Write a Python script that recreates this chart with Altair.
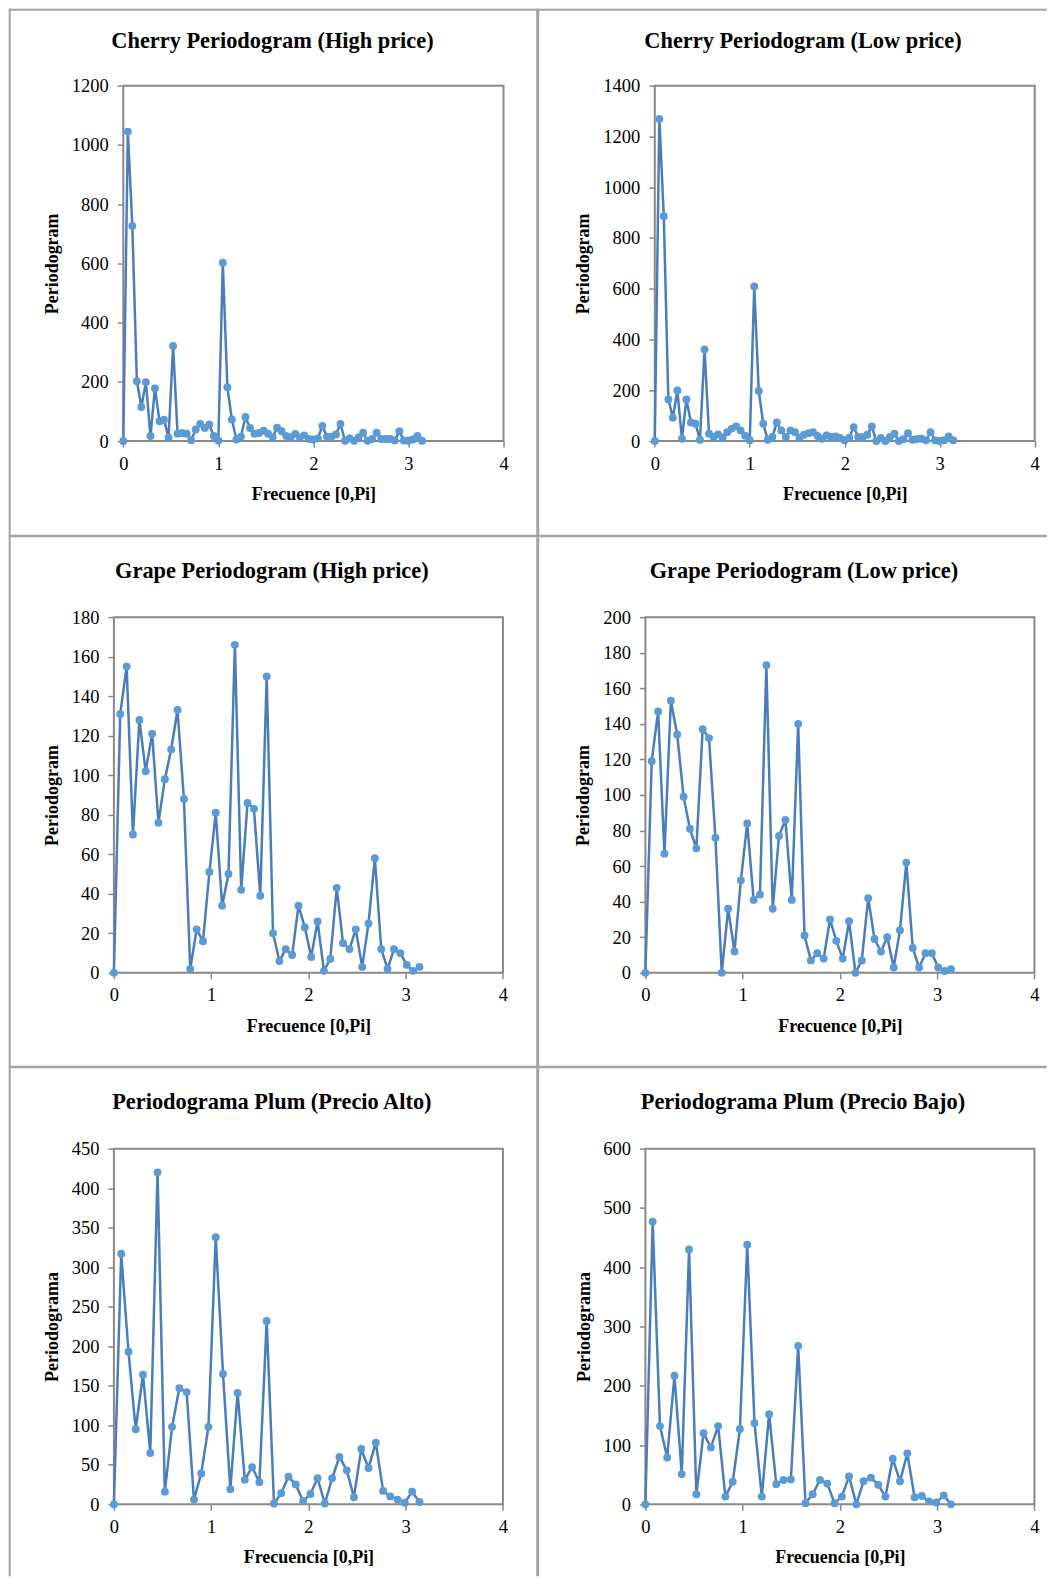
import altair as alt
import pandas as pd

# ---------------- data ----------------
freq_cherry = [0, 0.048, 0.095, 0.143, 0.190, 0.238, 0.286, 0.333, 0.381, 0.428,
               0.476, 0.524, 0.571, 0.619, 0.666, 0.714, 0.762, 0.809, 0.857, 0.904,
               0.952, 1.000, 1.047, 1.095, 1.142, 1.190, 1.238, 1.285, 1.333, 1.380,
               1.428, 1.476, 1.523, 1.571, 1.618, 1.666, 1.714, 1.761, 1.809, 1.856,
               1.904, 1.952, 1.999, 2.047, 2.094, 2.142, 2.190, 2.237, 2.285, 2.332,
               2.380, 2.428, 2.475, 2.523, 2.570, 2.618, 2.666, 2.713, 2.761, 2.808,
               2.856, 2.904, 2.951, 2.999, 3.046, 3.094, 3.142]
cherry_high = [0, 1045, 726, 202, 115, 199, 17, 178, 67, 72,
               12, 321, 25, 27, 25, 3, 39, 58, 44, 56,
               17, 2, 602, 182, 73, 5, 15, 81, 44, 25,
               27, 35, 25, 13, 45, 33, 17, 13, 24, 13,
               19, 7, 5, 9, 51, 15, 15, 22, 58, 1,
               9, 1, 12, 28, 1, 7, 28, 7, 7, 7,
               2, 33, 2, 1, 5, 17, 1]
cherry_low = [0, 1269, 886, 164, 92, 199, 9, 164, 73, 68,
              5, 361, 29, 16, 26, 13, 35, 49, 58, 42,
              21, 3, 609, 197, 68, 5, 16, 73, 42, 16,
              42, 35, 13, 25, 31, 35, 20, 9, 22, 16,
              18, 12, 3, 13, 55, 16, 16, 25, 58, 0,
              12, 0, 16, 29, 0, 7, 31, 5, 8, 9,
              3, 35, 3, 0, 3, 18, 3]

freq_grape = [0, 0.065, 0.131, 0.196, 0.262, 0.327, 0.393, 0.458, 0.524, 0.589,
              0.654, 0.720, 0.785, 0.851, 0.916, 0.982, 1.047, 1.113, 1.178, 1.244,
              1.309, 1.374, 1.440, 1.505, 1.571, 1.636, 1.702, 1.767, 1.833, 1.898,
              1.963, 2.029, 2.094, 2.160, 2.225, 2.291, 2.356, 2.422, 2.487, 2.553,
              2.618, 2.683, 2.749, 2.814, 2.880, 2.945, 3.011, 3.076, 3.142]
grape_high = [0, 131, 155, 70, 128, 102, 121, 76, 98, 113,
              133, 88, 2, 22, 16, 51, 81, 34, 50, 166,
              42, 86, 83, 39, 150, 20, 6, 12, 9, 34,
              23, 8, 26, 1, 7, 43, 15, 12, 22, 3,
              25, 58, 12, 2, 12, 10, 4, 1, 3]
grape_low = [0, 119, 147, 67, 153, 134, 99, 81, 70, 137,
             132, 76, 0, 36, 12, 52, 84, 41, 44, 173,
             36, 77, 86, 41, 140, 21, 7, 11, 8, 30,
             18, 8, 29, 0, 7, 42, 19, 12, 20, 3,
             24, 62, 14, 3, 11, 11, 3, 1, 2]

freq_plum = [0, 0.075, 0.150, 0.224, 0.299, 0.374, 0.449, 0.524, 0.598, 0.673,
             0.748, 0.823, 0.898, 0.972, 1.047, 1.122, 1.197, 1.272, 1.346, 1.421,
             1.496, 1.571, 1.646, 1.720, 1.795, 1.870, 1.945, 2.020, 2.094, 2.169,
             2.244, 2.319, 2.394, 2.468, 2.543, 2.618, 2.693, 2.768, 2.842, 2.917,
             2.992, 3.067, 3.142]
plum_alto = [0, 317, 193, 95, 164, 65, 420, 16, 98, 147,
             142, 6, 39, 98, 338, 165, 19, 141, 31, 47,
             28, 232, 1, 14, 35, 25, 4, 13, 33, 1,
             33, 60, 43, 9, 70, 46, 78, 17, 10, 6,
             2, 16, 3]
plum_bajo = [0, 477, 132, 79, 217, 51, 430, 17, 120, 96,
             132, 13, 38, 127, 438, 137, 13, 152, 34, 41,
             42, 267, 2, 17, 41, 35, 2, 13, 47, 0,
             39, 45, 33, 13, 77, 39, 86, 12, 14, 5,
             3, 15, 0]

titles = ["Cherry Periodogram (High price)", "Cherry Periodogram (Low price)",
          "Grape Periodogram (High price)", "Grape Periodogram (Low price)",
          "Periodograma Plum (Precio Alto)", "Periodograma Plum (Precio Bajo)"]
y_titles = ["Periodogram", "Periodogram", "Periodogram", "Periodogram",
            "Periodograma", "Periodograma"]
x_titles = ["Frecuence [0,Pi]", "Frecuence [0,Pi]", "Frecuence [0,Pi]",
            "Frecuence [0,Pi]", "Frecuencia [0,Pi]", "Frecuencia [0,Pi]"]
y_max = [1200, 1400, 180, 200, 450, 600]
y_step = [200, 200, 20, 20, 50, 100]
x_ticks = [0, 1, 2, 3, 4]

series = [(freq_cherry, cherry_high), (freq_cherry, cherry_low),
          (freq_grape, grape_high), (freq_grape, grape_low),
          (freq_plum, plum_alto), (freq_plum, plum_bajo)]

# ---------------- layout (page pixel coordinates) ----------------
FONT = "Liberation Serif"
LINE_COLOR = "#4a7ebb"
POINT_COLOR = "#5b9bd5"
FRAME = "#898989"
BORDER = "#a3a3a3"

# view origin (ox, oy), view size (w, h), left edge of the plotted frame
views = [(113.3, 85, 390, 355.7, 122.7), (645.3, 85, 389.7, 355.7, 654.7),
         (113.3, 617, 389.4, 356, 113.3), (645.3, 617, 389.4, 356, 645.3),
         (113.3, 1149, 389.4, 356, 113.3), (645.3, 1149, 389.4, 356, 645.3)]
title_centers = [(272, 40.7), (803, 40.7), (271.4, 571.2), (804, 571.2),
                 (271.4, 1102.8), (803, 1102.8)]
ytitle_x = [52, 583.4, 52, 583.4, 52, 584.4]
col_x = [(8, 540), (540, 1047)]
row_y = [(8, 537), (537, 1068.5), (1068.5, 1577)]
row_bottom_strip = [(534.5, 537), (1066, 1068.5), None]


def deco(x0, x1, y0, y1, color):
    return alt.Chart(pd.DataFrame({"d": [0]})).mark_rect(color=color).encode(
        x=alt.value(x0), x2=alt.value(x1), y=alt.value(y0), y2=alt.value(y1))


def panel(i):
    r, c = divmod(i, 2)
    ox, oy, w, h, pl = views[i]
    inset = pl - ox
    cx0, cx1 = col_x[c]
    cy0, cy1 = row_y[r]
    layers = []
    # table borders
    if c == 0:
        layers.append(deco(8 - ox, 10 - ox, cy0 - oy, cy1 - oy, BORDER))
        layers.append(deco(536 - ox, 539 - ox, cy0 - oy, cy1 - oy, BORDER))
    if r == 0:
        layers.append(deco(cx0 - ox, cx1 - ox, 8 - oy, 10 - oy, BORDER))
    if row_bottom_strip[r] is not None:
        b0, b1 = row_bottom_strip[r]
        layers.append(deco(cx0 - ox, cx1 - ox, b0 - oy, b1 - oy, BORDER))
    # plot frame
    layers.append(alt.Chart(pd.DataFrame({"d": [0]})).mark_rect(
        filled=False, stroke=FRAME, strokeWidth=2).encode(
        x=alt.value(inset), x2=alt.value(w), y=alt.value(0), y2=alt.value(h)))

    xs, ys = series[i]
    df = pd.DataFrame({"freq": xs, "val": ys})
    x = alt.X("freq:Q", scale=alt.Scale(domain=[0, 4], nice=False, range=[inset, w]),
              axis=alt.Axis(values=x_ticks, title=x_titles[i], format="d",
                            titleX=inset + (w - inset) / 2, titleY=53.5,
                            titleBaseline="middle", titleAlign="center",
                            labelPadding=7, labelFlush=False, domain=False))
    y = alt.Y("val:Q", scale=alt.Scale(domain=[0, y_max[i]], nice=False),
              axis=alt.Axis(values=list(range(0, y_max[i] + 1, y_step[i])),
                            format="d", title=y_titles[i], titleX=ytitle_x[i] - pl,
                            titleY=h / 2, titleAngle=270, titleBaseline="middle",
                            titleAlign="center", labelPadding=9, labelFlush=False,
                            domain=False, offset=-inset))
    base = alt.Chart(df)
    layers.append(base.mark_line(color=LINE_COLOR, strokeWidth=2.5).encode(x=x, y=y))
    layers.append(base.mark_circle(color=POINT_COLOR, size=62, opacity=1).encode(x=x, y=y))
    tx, ty = title_centers[i]
    layers.append(alt.Chart(pd.DataFrame({"d": [0]})).mark_text(
        text=titles[i], font=FONT, fontSize=22.4, fontWeight="bold",
        align="center", baseline="middle", color="black").encode(
        x=alt.value(tx - ox), y=alt.value(ty - oy)))
    return alt.layer(*layers).properties(width=w, height=h)


chart = alt.concat(*[panel(i) for i in range(6)], columns=2, bounds="flush",
                   spacing={"row": 176, "column": 142}).properties(
    padding=0, background="white"
).configure_view(
    strokeWidth=0
).configure_axis(
    grid=False, tickColor=FRAME, tickWidth=1.5, tickSize=6,
    labelFont=FONT, labelFontSize=18.5, labelColor="black",
    titleFont=FONT, titleFontSize=18, titleFontWeight="bold", titleColor="black"
)

chart.save("out.html", embed_options={"renderer": "svg", "actions": False})
